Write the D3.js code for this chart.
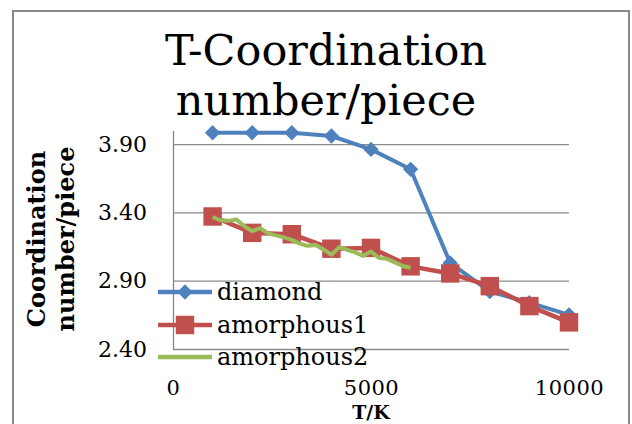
<!DOCTYPE html>
<html>
<head>
<meta charset="utf-8">
<script src="https://cdn.jsdelivr.net/npm/d3@7"></script>
<style>
  body { margin: 0; background: #fff; }
  svg { display: block; }
</style>
</head>
<body>
<div id="chart"></div>
<script>
// temperatures (K)
const temps = [1000, 2000, 3000, 4000, 5000, 6000, 7000, 8000, 9000, 10000]
const diamond = [3.983, 3.983, 3.983, 3.959, 3.861, 3.715, 3.03, 2.82, 2.74, 2.65]
const amorphous1 = [3.37, 3.25, 3.24, 3.134, 3.14, 3.005, 2.953, 2.86, 2.714, 2.595]
// amorphous2 sampled every 200 K from 1000 to 6000
const temps2 = [1000, 1200, 1400, 1600, 1800, 2000, 2200, 2400, 2600, 2800, 3000, 3200, 3400,
                3600, 3800, 4000, 4200, 4400, 4600, 4800, 5000, 5200, 5400, 5600, 5800, 6000]
const amorphous2 = [3.366, 3.342, 3.338, 3.348, 3.298, 3.262, 3.285, 3.246, 3.232, 3.217, 3.199, 3.171, 3.155,
                    3.162, 3.129, 3.09, 3.146, 3.125, 3.107, 3.082, 3.113, 3.066, 3.06, 3.034, 3.008, 2.995]
const yTicks = [2.40, 2.90, 3.40, 3.90]
const xTicks = [0, 5000, 10000]
const seriesNames = ["diamond", "amorphous1", "amorphous2"]

const W = 632, H = 424
const serif = "'DejaVu Serif', serif"
const colors = {diamond: "#4f81bd", amorphous1: "#c0504d", amorphous2: "#9bbb59"}

const svg = d3.select("#chart").append("svg")
    .attr("width", W).attr("height", H)

// outer chart border (bottom edge is off the picture)
svg.append("rect")
    .attr("x", 13).attr("y", 11)
    .attr("width", 616).attr("height", 440)
    .attr("fill", "#fff")
    .attr("stroke", "#898989").attr("stroke-width", 2)

const x = d3.scaleLinear().domain([0, 10000]).range([173, 569])
const y = d3.scaleLinear().domain([2.4, 4.0]).range([349, 130.4])

// title
const title = svg.append("text")
    .attr("text-anchor", "middle")
    .style("font-family", serif).style("font-size", "43px")
title.append("tspan").attr("x", 326).attr("y", 65).text("T-Coordination")
title.append("tspan").attr("x", 326).attr("y", 115).text("number/piece")

// y axis with gridlines
const yAxis = svg.append("g")
    .attr("transform", "translate(" + x(0) + ",0)")
    .call(d3.axisLeft(y)
        .tickValues(yTicks)
        .tickFormat(d3.format(".2f"))
        .tickSize(-(x(10000) - x(0)))
        .tickSizeOuter(0)
        .tickPadding(26))
yAxis.select(".domain").attr("stroke", "#868686").attr("stroke-width", 1.3)
yAxis.selectAll(".tick line").attr("stroke", "#8c8c8c").attr("stroke-width", 1.3)
yAxis.selectAll(".tick text")
    .style("font-family", serif).style("font-size", "22px").attr("fill", "#000")

// x axis labels only
const xAxis = svg.append("g")
    .attr("transform", "translate(0," + y(2.4) + ")")
    .call(d3.axisBottom(x).tickValues(xTicks).tickFormat(d3.format("d")).tickSize(0).tickPadding(31))
xAxis.select(".domain").remove()
xAxis.selectAll(".tick text")
    .style("font-family", serif).style("font-size", "21px").style("letter-spacing", "0.5px").attr("fill", "#000")

// axis titles
svg.append("text")
    .attr("transform", "translate(371,419)")
    .attr("text-anchor", "middle")
    .style("font-family", serif).style("font-size", "19px").style("font-weight", "bold")
    .text("T/K")
const yTitle = svg.append("text")
    .attr("transform", "translate(0,239) rotate(-90)")
    .attr("text-anchor", "middle")
    .style("font-family", serif).style("font-size", "24px").style("font-weight", "bold")
yTitle.append("tspan").attr("x", 0).attr("y", 45).text("Coordination")
yTitle.append("tspan").attr("x", 0).attr("y", 74).text("number/piece")

const line = d3.line().x(d => x(d[0])).y(d => y(d[1]))
const diamondSym = d3.symbol().type(d3.symbolDiamond2).size(150)
const squareSym = d3.symbol().type(d3.symbolSquare).size(340)

// diamond series
svg.append("path")
    .datum(d3.zip(temps, diamond))
    .attr("fill", "none").attr("stroke", colors.diamond)
    .attr("stroke-width", 4).attr("stroke-linejoin", "round")
    .attr("d", line)
svg.append("g").selectAll("path")
    .data(d3.zip(temps, diamond))
    .join("path")
    .attr("transform", d => "translate(" + x(d[0]) + "," + y(d[1]) + ")")
    .attr("d", diamondSym)
    .attr("fill", colors.diamond)

// amorphous1 series
svg.append("path")
    .datum(d3.zip(temps, amorphous1))
    .attr("fill", "none").attr("stroke", colors.amorphous1)
    .attr("stroke-width", 4.5).attr("stroke-linejoin", "round")
    .attr("d", line)
svg.append("g").selectAll("path")
    .data(d3.zip(temps, amorphous1))
    .join("path")
    .attr("transform", d => "translate(" + x(d[0]) + "," + y(d[1]) + ")")
    .attr("d", squareSym)
    .attr("fill", colors.amorphous1)

// amorphous2 series
svg.append("path")
    .datum(d3.zip(temps2, amorphous2))
    .attr("fill", "none").attr("stroke", colors.amorphous2)
    .attr("stroke-width", 4).attr("stroke-linejoin", "round")
    .attr("d", line)

// legend, drawn over the plot
const legend = svg.append("g")
const rowY = [292, 325, 357]
seriesNames.forEach(function(name, i) {
    const g = legend.append("g").attr("transform", "translate(0," + rowY[i] + ")")
    g.append("line")
        .attr("x1", 158).attr("x2", 212)
        .attr("stroke", colors[name]).attr("stroke-width", 4.5)
    if (name == "diamond") {
        g.append("path").attr("transform", "translate(185,0)").attr("d", diamondSym).attr("fill", colors[name])
    } else if (name == "amorphous1") {
        g.append("path").attr("transform", "translate(185,0)").attr("d", squareSym).attr("fill", colors[name])
    }
    g.append("text")
        .attr("x", 217).attr("y", 8)
        .style("font-family", serif).style("font-size", "24px")
        .text(name)
})
</script>
</body>
</html>
